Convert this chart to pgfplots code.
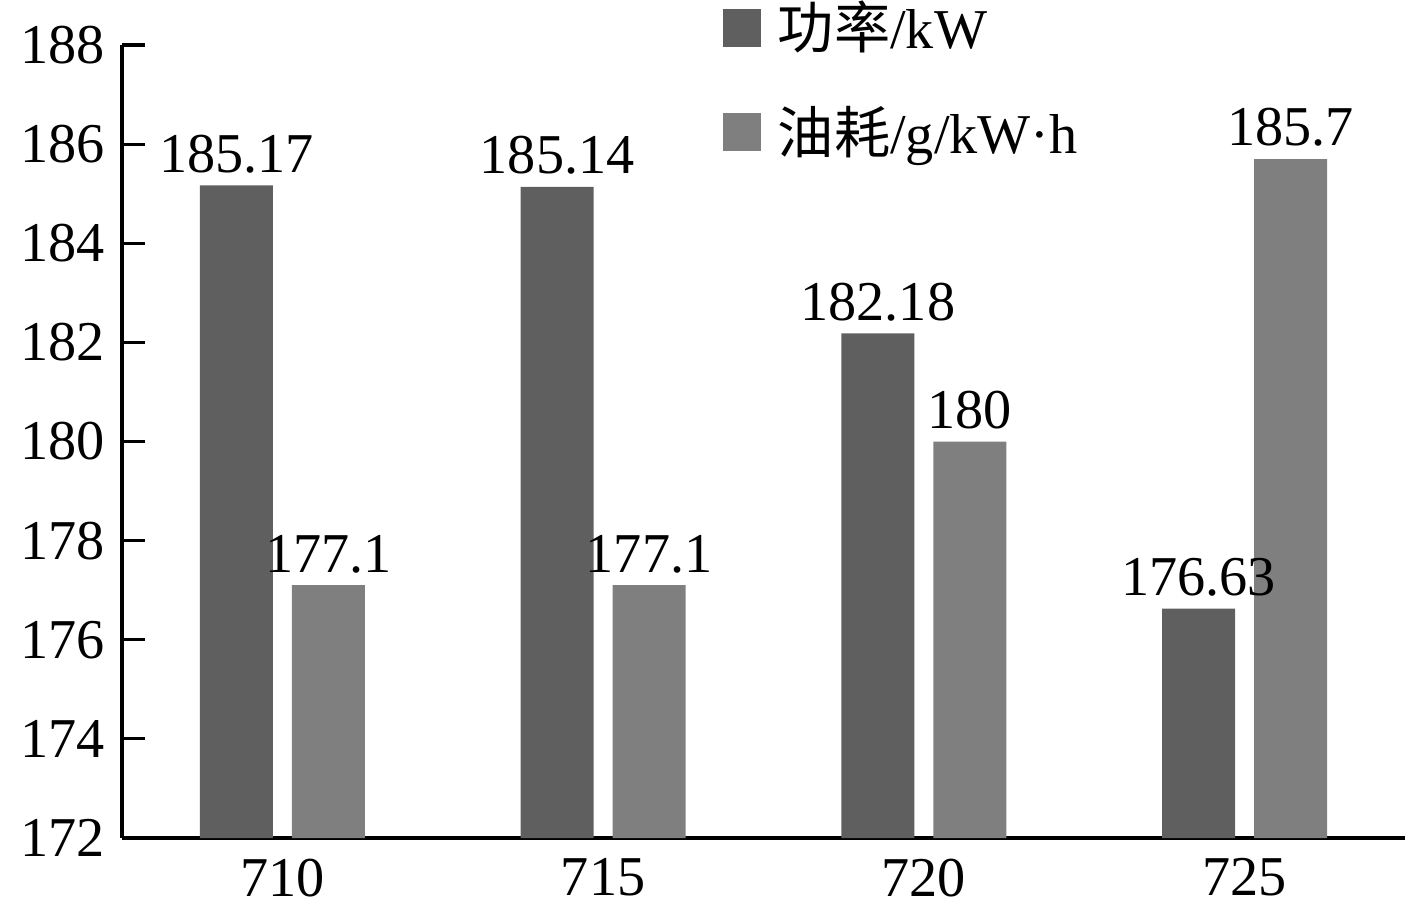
\documentclass[border=0pt]{standalone}
\usepackage{pgfplots}
\pgfplotsset{compat=1.18}
\usepackage{fontspec}
\setmainfont{Liberation Serif}
\newfontfamily\cjk{Noto Sans CJK SC}
\definecolor{powerc}{HTML}{5F5F5F}
\definecolor{fuelc}{HTML}{7F7F7F}
\newcommand\bigfont{\fontsize{16pt}{19pt}\selectfont}

\begin{document}
\begin{tikzpicture}
\useasboundingbox (0,0) rectangle (14.17cm,9.08cm);
\begin{axis}[
  at={(1.22cm,0.70cm)}, anchor=south west,
  scale only axis, width=12.83cm, height=7.93cm,
  xmin=-0.5, xmax=3.5, ymin=172, ymax=188,
  ytick={172,174,...,188},
  xtick={0,1,2,3}, xticklabels={710,715,720,725},
  axis x line=bottom, axis y line=left,
  axis line style={-, line width=0.9pt, black},
  tick align=inside, major tick length=0.23cm,
  x tick style={draw=none},
  y tick style={line width=0.9pt, black},
  tick label style={font=\bigfont},
  xticklabel style={inner sep=0pt, yshift=0.03cm},
  yticklabel style={xshift=-0.05cm},
  /pgf/number format/assume math mode=true,
  ybar, bar width=0.227,
  nodes near coords,
  every node near coord/.append style={font=\bigfont, text=black},
  legend style={at={(0.4677,1.065)}, anchor=north west, draw=none, fill=none,
    font=\bigfont, row sep=0.38cm, inner sep=0pt,
    /tikz/every odd column/.append style={column sep=0.1cm}},
  legend cell align=left,
]
\addplot[ybar, bar shift=-0.1434, fill=powerc, draw=none,
  legend image code/.code={\fill[powerc] (0cm,-0.19cm) rectangle (0.38cm,0.19cm);}]
  coordinates {(0,185.17) (1,185.14) (2,182.18) (3,176.63)};
\addlegendentry{{\cjk 功率}/kW}
\addplot[ybar, bar shift=0.1434, fill=fuelc, draw=none,
  legend image code/.code={\fill[fuelc] (0cm,-0.19cm) rectangle (0.38cm,0.19cm);}]
  coordinates {(0,177.1) (1,177.1) (2,180) (3,185.7)};
\addlegendentry{{\cjk 油耗}/g/kW·h}
\end{axis}
\end{tikzpicture}
\end{document}
